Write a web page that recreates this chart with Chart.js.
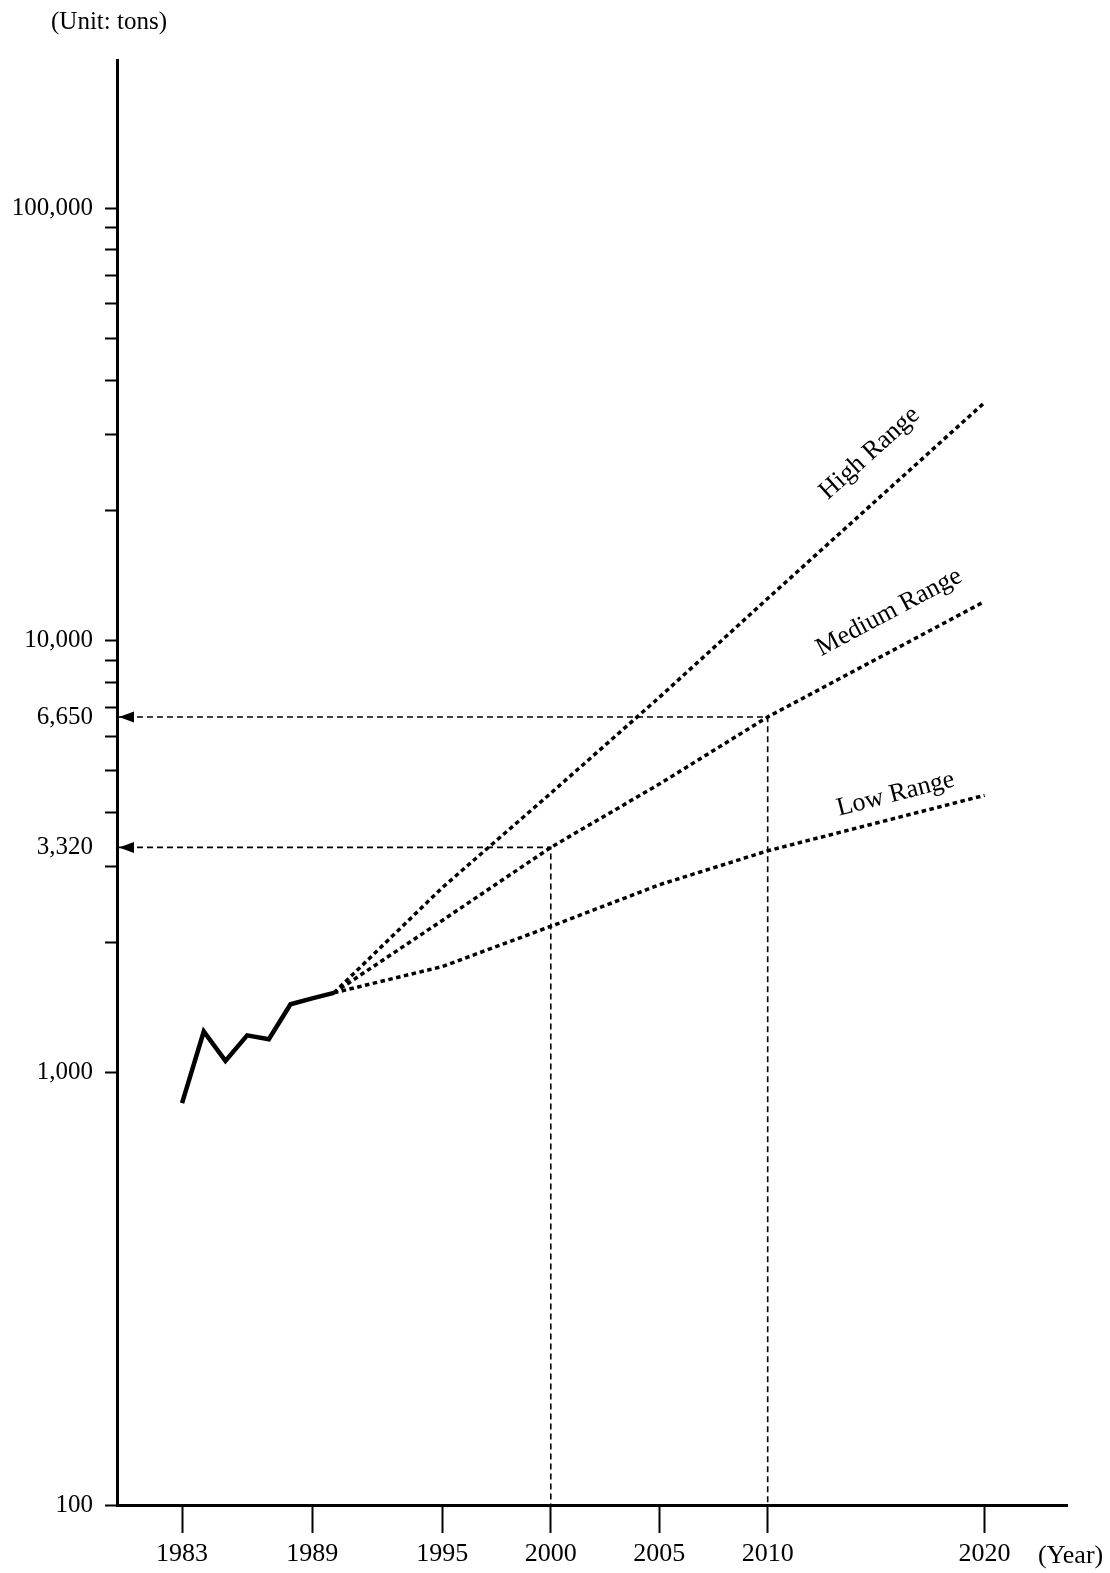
<!DOCTYPE html>
<html><head><meta charset="utf-8">
<script src="https://cdn.jsdelivr.net/npm/chart.js@4.4.0/dist/chart.umd.min.js"></script>
<style>html,body{margin:0;padding:0;background:#fff;} #wrap{width:1110px;height:1573px;position:relative;}</style>
</head><body><div id="wrap"><canvas id="c"></canvas></div>
<script>
// ---- data ----
const histYears = [1983, 1984, 1985, 1986, 1987, 1988, 1989, 1990];
const histValues = [850, 1245, 1065, 1220, 1195, 1440, 1485, 1530];
const projYears = [1990, 1995, 2000, 2005, 2010, 2020];
const highValues = [1530, 2680, 4430, 7380, 12500, 35500];
const mediumValues = [1530, 2250, 3320, 4650, 6650, 12300];
const lowValues = [1530, 1760, 2180, 2720, 3260, 4380];
const projNames = ['High Range', 'Medium Range', 'Low Range'];
const refYears = [2000, 2010];
const refValues = [3320, 6650];
const xTickYears = [1983, 1989, 1995, 2000, 2005, 2010, 2020];
const yTickValues = [100, 1000, 2000, 3000, 3320, 4000, 5000, 6000, 6650, 7000, 8000, 9000,
  10000, 20000, 30000, 40000, 50000, 60000, 70000, 80000, 90000, 100000];
const yLabelValues = [100, 1000, 3320, 6650, 10000, 100000];
const unitLabel = '(Unit: tons)';
const yearLabel = '(Year)';

// ---- styling / placement ----
const FONT = "'Liberation Serif', 'DejaVu Serif', serif";
const labelPlacement = [{year: 2014.7, dy: 53}, {year: 2015.6, dy: 40}, {year: 2015.9, dy: 24}];
const projSeries = [highValues, mediumValues, lowValues];

const toXY = (xs, ys) => xs.map((x, i) => ({x: x, y: ys[i]}));

const datasets = [];
datasets.push({data: toXY(histYears, histValues), borderColor: '#000', borderWidth: 4.5, borderJoinStyle: 'miter'});
projSeries.forEach(vals => datasets.push({
  data: toXY(projYears, vals), borderColor: '#000', borderWidth: 3.5, borderDash: [4.5, 3.5]
}));
refValues.forEach((v, i) => datasets.push({
  data: [{x: 1980, y: v}, {x: refYears[i], y: v}, {x: refYears[i], y: 100}],
  borderColor: '#000', borderWidth: 1.6, borderDash: [6, 4]
}));
datasets.forEach(d => { d.pointRadius = 0; d.tension = 0; d.fill = false; });

function interpLog(xs, ys, x) {
  for (let i = 0; i < xs.length - 1; i++) {
    if (x >= xs[i] && x <= xs[i + 1]) {
      const t = (x - xs[i]) / (xs[i + 1] - xs[i]);
      return Math.pow(10, Math.log10(ys[i]) + t * (Math.log10(ys[i + 1]) - Math.log10(ys[i])));
    }
  }
  return ys[ys.length - 1];
}

const annot = {
  id: 'annot',
  afterDatasetsDraw(chart) {
    const {ctx, chartArea} = chart;
    const xs = chart.scales.x, ys = chart.scales.y;
    ctx.save();
    ctx.fillStyle = '#000';
    // arrowheads at the y axis
    refValues.forEach(v => {
      const y = ys.getPixelForValue(v);
      const x0 = chartArea.left + 2;
      ctx.beginPath();
      ctx.moveTo(x0, y);
      ctx.lineTo(x0 + 15, y - 5.5);
      ctx.lineTo(x0 + 15, y + 5.5);
      ctx.closePath();
      ctx.fill();
    });
    // line labels
    ctx.font = '26px ' + FONT;
    ctx.textAlign = 'center';
    ctx.textBaseline = 'middle';
    projSeries.forEach((vals, i) => {
      const p = labelPlacement[i];
      const xa = xs.getPixelForValue(p.year - 1), ya = ys.getPixelForValue(interpLog(projYears, vals, p.year - 1));
      const xb = xs.getPixelForValue(p.year + 1), yb = ys.getPixelForValue(interpLog(projYears, vals, p.year + 1));
      const ang = Math.atan2(yb - ya, xb - xa);
      const cx = xs.getPixelForValue(p.year);
      const cy = ys.getPixelForValue(interpLog(projYears, vals, p.year)) - p.dy;
      ctx.save();
      ctx.translate(cx, cy);
      ctx.rotate(ang);
      ctx.fillText(projNames[i], 0, 0);
      ctx.restore();
    });
    // unit label
    ctx.textAlign = 'left';
    ctx.font = '25px ' + FONT;
    ctx.fillText(unitLabel, chartArea.left - 66, chartArea.top - 38);
    // year label
    ctx.font = '26px ' + FONT;
    ctx.fillText(yearLabel, chartArea.right - 29, chartArea.bottom + 51);
    ctx.restore();
  }
};

new Chart(document.getElementById('c'), {
  type: 'line',
  data: {datasets: datasets},
  plugins: [annot],
  options: {
    responsive: true,
    maintainAspectRatio: false,
    animation: false,
    events: [],
    layout: {padding: {top: 60, right: 43, left: 0, bottom: 0}},
    plugins: {legend: {display: false}, tooltip: {enabled: false}, title: {display: false}},
    scales: {
      x: {
        type: 'linear', min: 1980, max: 2023.8,
        afterFit: s => { s.height = 68; },
        afterBuildTicks: s => { s.ticks = xTickYears.map(v => ({value: v})); },
        grid: {drawOnChartArea: false, drawTicks: true, tickLength: 28, tickWidth: 2, tickColor: '#000'},
        border: {display: true, color: '#000', width: 3},
        ticks: {autoSkip: false, maxRotation: 0, padding: 6, color: '#000',
          font: {family: FONT, size: 26}, callback: v => String(v)}
      },
      y: {
        type: 'logarithmic', min: 100, max: 220000,
        afterFit: s => { s.width = 117; },
        afterBuildTicks: s => { s.ticks = yTickValues.map(v => ({value: v})); },
        grid: {drawOnChartArea: false, drawTicks: true, tickLength: 12, tickWidth: 2,
          tickColor: c => (c.tick && refValues.includes(c.tick.value)) ? 'rgba(0,0,0,0)' : '#000'},
        border: {display: true, color: '#000', width: 3},
        ticks: {autoSkip: false, padding: 12, color: '#000', font: {family: FONT, size: 25},
          callback: v => yLabelValues.includes(v) ? v.toLocaleString('en-US') : ''}
      }
    }
  }
});
</script></body></html>
